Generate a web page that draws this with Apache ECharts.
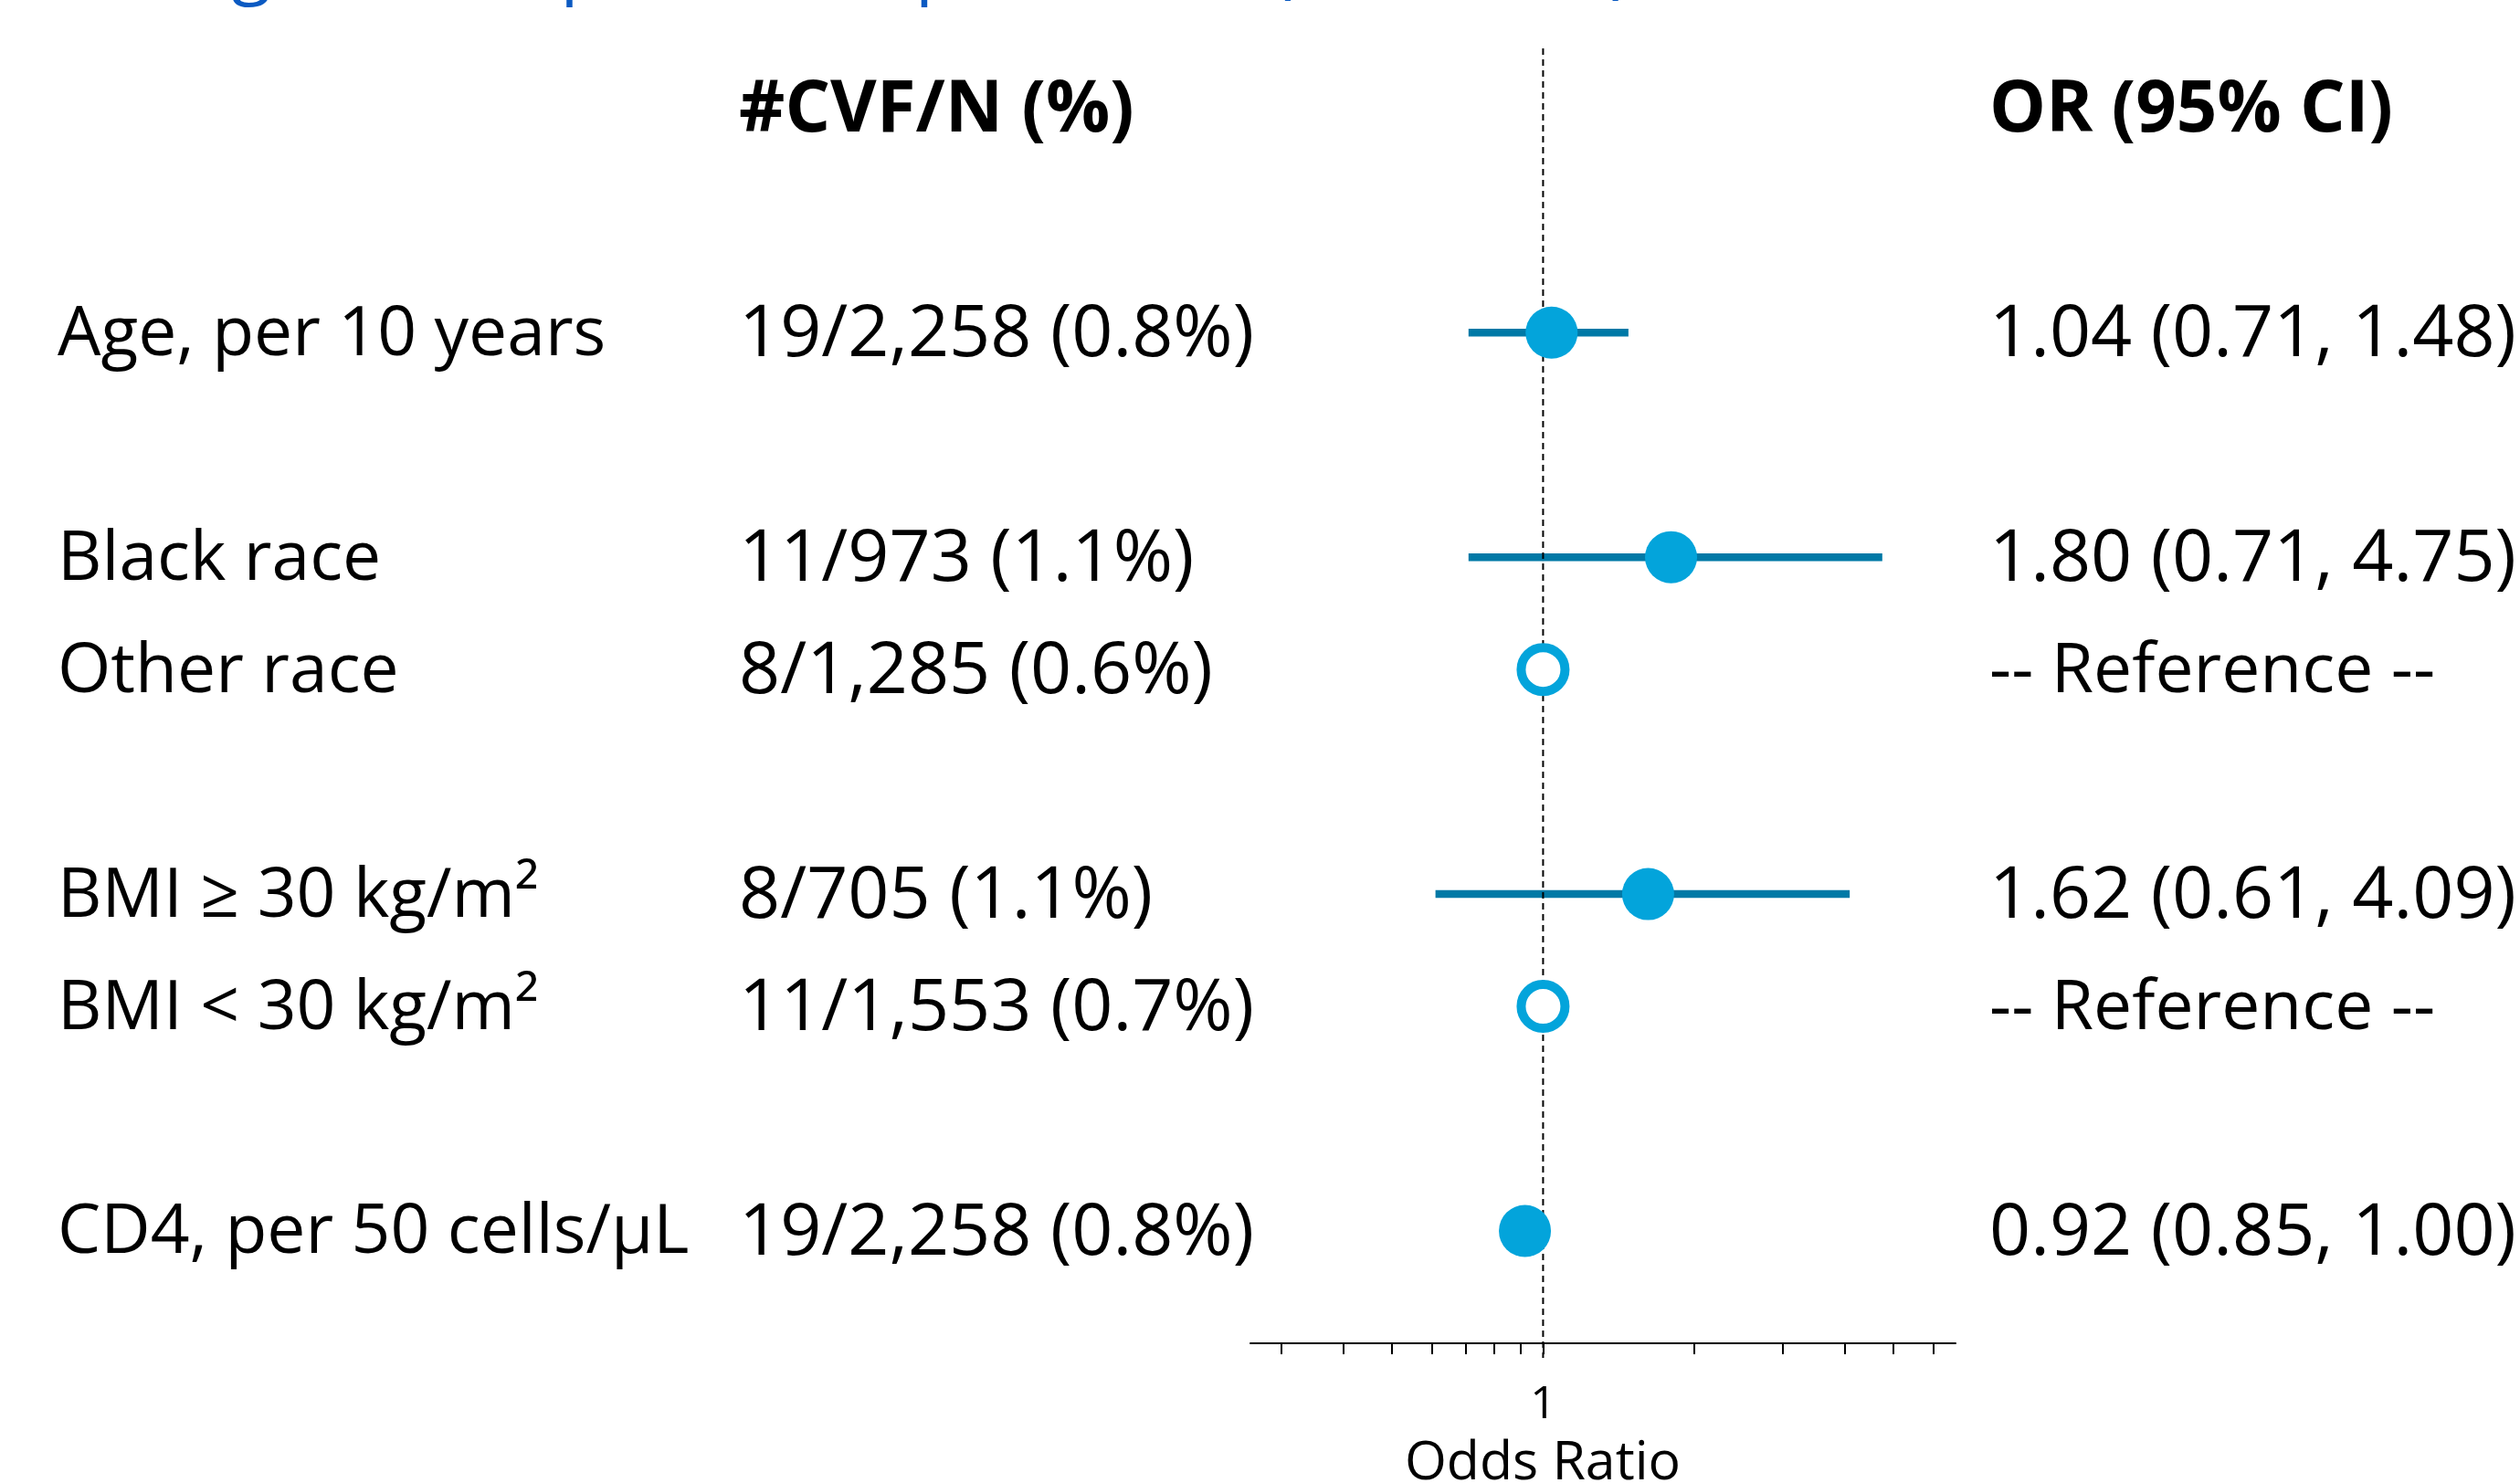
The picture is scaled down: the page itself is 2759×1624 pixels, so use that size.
<!DOCTYPE html>
<html>
<head>
<meta charset="utf-8">
<title>CVF odds ratios</title>
<script src="https://cdn.jsdelivr.net/npm/echarts@6/dist/echarts.min.js"></script>
<style>
  html, body { margin: 0; padding: 0; background: #fff; }
  #container { width: 2759px; height: 1624px; }
</style>
</head>
<body>
<div id="container"></div>
<script>
// rows of the forest plot
const factors = ["Age, per 10 years", "Black race", "Other race", "BMI \u2265 30 kg/m\u00b2", "BMI < 30 kg/m\u00b2", "CD4, per 50 cells/\u03bcL"]
const groups = [0, 1, 1, 2, 2, 3]
const events = ["19/2,258 (0.8%)", "11/973 (1.1%)", "8/1,285 (0.6%)", "8/705 (1.1%)", "11/1,553 (0.7%)", "19/2,258 (0.8%)"]
const orText = ["1.04 (0.71, 1.48)", "1.80 (0.71, 4.75)", "-- Reference --", "1.62 (0.61, 4.09)", "-- Reference --", "0.92 (0.85, 1.00)"]
const orValue = [1.04, 1.80, 1, 1.62, 1, 0.92]
const ciLow = [0.71, 0.71, null, 0.61, null, 0.85]
const ciHigh = [1.48, 4.75, null, 4.09, null, 1.00]
const isReference = [false, false, true, false, true, false]

const xTicks = [0.3, 0.4, 0.5, 0.6, 0.7, 0.8, 0.9, 1, 2, 3, 4, 5, 6]
const xLabels = [1]

const headerLeft = "#CVF/N (%)"
const headerRight = "OR (95% CI)"
const titleText = "during follow-up and complete data (N = 2,258)"

const FONT = "Open Sans"
const lineBlue = "#0079a6"
const dotBlue = "#03a4db"

// row slot: one blank row between groups, header two rows above
let slots = factors.map((f, i) => i + groups[i])
let nSlots = slots[slots.length - 1] + 3
let leftCats = new Array(nSlots).fill("")
let rightCats = new Array(nSlots).fill("")
leftCats[0] = "{a| }{h|" + headerLeft + "}"
rightCats[0] = "{h|" + headerRight + "}"
factors.forEach((f, i) => {
    leftCats[slots[i] + 2] = "{a|" + f + "}{b|" + events[i] + "}"
    rightCats[slots[i] + 2] = (isReference[i] ? "{r|" : "{b|") + orText[i] + "}"
})

let ciData = []
let dotData = []
let refData = []
factors.forEach((f, i) => {
    if (ciLow[i] != null) ciData.push([ciLow[i], ciHigh[i], slots[i]])
    if (isReference[i]) refData.push([orValue[i], slots[i]])
    else dotData.push([orValue[i], slots[i]])
})

let richText = {
    a: { width: 746, fontSize: 75, fontFamily: FONT, color: "#000" },
    b: { fontSize: 79, fontFamily: FONT, color: "#000" },
    r: { fontSize: 75, fontFamily: FONT, color: "#000" },
    h: { fontSize: 78, fontFamily: FONT, fontWeight: "bold", color: "#000" }
}

let myChart = echarts.init(document.getElementById("container"))

let options = {
    animation: false,
    backgroundColor: "#fff",
    graphic: [{
        type: "text",
        left: 56,
        top: -73,
        style: { text: titleText, fontSize: 79, fontFamily: FONT, fill: "#0b5ac2" }
    }, {
        type: "text",
        x: 1689,
        y: 1603,
        style: { text: "Odds Ratio", fontSize: 59, fontFamily: FONT, fill: "#000", align: "center", verticalAlign: "middle" }
    }],
    grid: [{
        left: 1369, right: 618, top: 53, bottom: 153
    }, {
        left: 63, right: 581, top: 60, bottom: 211.4
    }],
    xAxis: [{
        type: "log",
        gridIndex: 0,
        min: 0.2607,
        max: 6.65,
        axisLine: { onZero: false, lineStyle: { color: "#000", width: 2 } },
        axisTick: { show: true, length: 12, lineStyle: { color: "#000", width: 2 }, customValues: xTicks },
        axisLabel: { customValues: xLabels, fontSize: 50, fontFamily: FONT, color: "#000", margin: 43 },
        splitLine: { show: false },
        minorTick: { show: false }
    }, {
        type: "value",
        gridIndex: 1,
        show: false
    }],
    yAxis: [{
        type: "value",
        gridIndex: 0,
        inverse: true,
        min: -2.531,
        max: 9,
        show: false
    }, {
        type: "category",
        gridIndex: 1,
        inverse: true,
        position: "left",
        data: leftCats,
        axisLine: { show: false },
        axisTick: { show: false },
        axisLabel: { interval: 0, align: "left", margin: 0, rich: richText }
    }, {
        type: "category",
        gridIndex: 1,
        inverse: true,
        position: "right",
        data: rightCats,
        axisLine: { show: false },
        axisTick: { show: false },
        axisLabel: { interval: 0, align: "left", margin: 0, rich: richText }
    }],
    series: [{
        type: "custom",
        xAxisIndex: 0,
        yAxisIndex: 0,
        data: ciData,
        encode: { x: [0, 1], y: 2 },
        renderItem: function(params, api) {
            let lo = api.coord([api.value(0), api.value(2)])
            let hi = api.coord([api.value(1), api.value(2)])
            return {
                type: "line",
                shape: { x1: lo[0], y1: lo[1], x2: hi[0], y2: hi[1] },
                style: { stroke: lineBlue, lineWidth: 8.5 }
            }
        },
        z: 2
    }, {
        type: "line",
        xAxisIndex: 0,
        yAxisIndex: 0,
        data: [[1, -2.531], [1, 9.13]],
        symbol: "none",
        clip: false,
        lineStyle: { color: "#000", width: 2, type: [7, 5] },
        z: 3
    }, {
        type: "scatter",
        xAxisIndex: 0,
        yAxisIndex: 0,
        data: dotData,
        symbol: "circle",
        symbolSize: 57,
        itemStyle: { color: dotBlue, opacity: 1 },
        z: 4
    }, {
        type: "scatter",
        xAxisIndex: 0,
        yAxisIndex: 0,
        data: refData,
        symbol: "circle",
        symbolSize: 48,
        itemStyle: { color: "#fff", borderColor: dotBlue, borderWidth: 10, opacity: 1 },
        z: 4
    }]
}
myChart.setOption(options)
</script>
</body>
</html>
